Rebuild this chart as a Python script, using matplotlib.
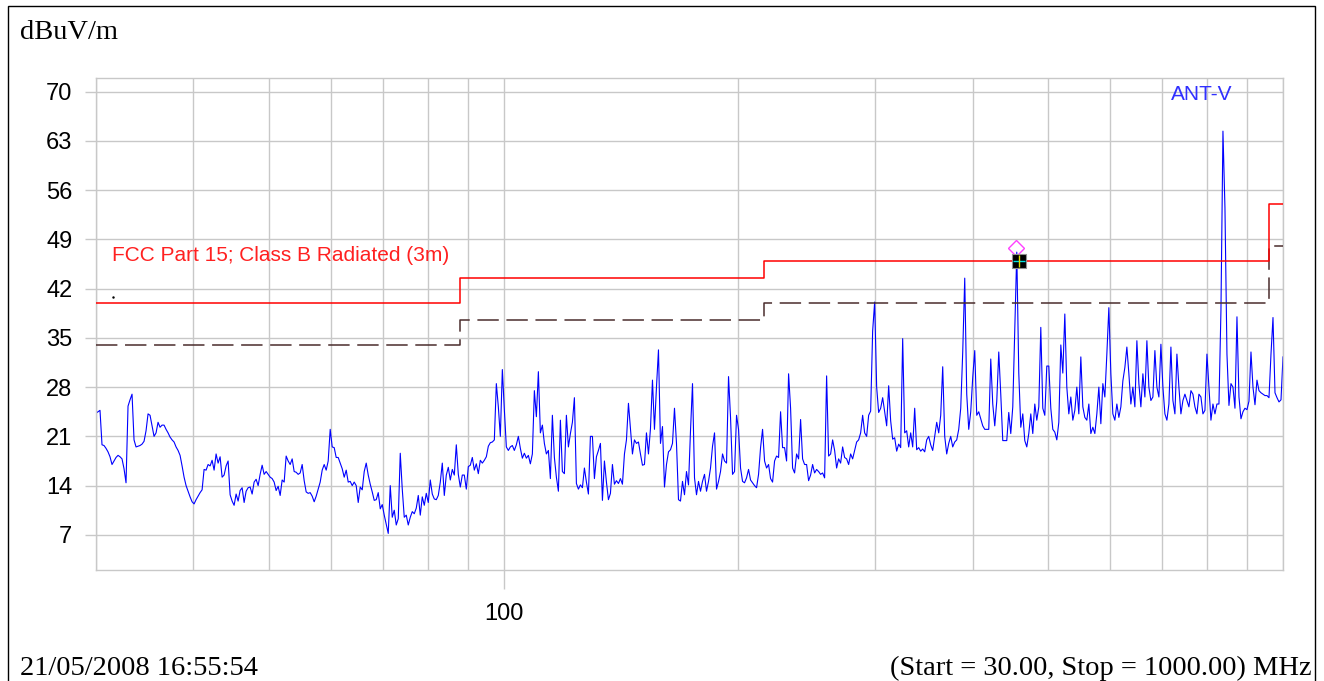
import numpy as np
import matplotlib
matplotlib.use("Agg")
import matplotlib.pyplot as plt
from matplotlib.patches import Rectangle

plt.rcParams['font.family'] = ['Liberation Sans', 'DejaVu Sans']

# sweep settings shown on the plot
start_mhz = 30.0
stop_mhz = 1000.0

level = [
    24.3, 24.5, 24.7, 19.8, 19.7, 19.3, 18.8, 18.1, 17.0, 17.5,
    18.0, 18.3, 18.1, 17.8, 16.4, 14.4, 25.3, 26.2, 27.0, 20.5,
    19.5, 19.6, 19.7, 19.9, 20.3, 21.8, 24.2, 24.0, 22.5, 21.0,
    21.5, 23.0, 22.3, 22.6, 22.6, 22.0, 21.5, 20.9, 20.5, 20.2,
    19.5, 19.0, 18.3, 16.8, 15.2, 14.0, 13.2, 12.4, 11.7, 11.4,
    12.0, 12.5, 13.0, 13.4, 16.3, 16.2, 17.0, 16.8, 17.6, 16.2,
    18.5, 17.2, 18.1, 15.2, 15.5, 16.8, 17.5, 12.7, 11.8, 11.2,
    12.8, 11.8, 13.3, 13.7, 11.6, 13.2, 13.7, 13.8, 12.8, 14.5,
    14.9, 14.0, 15.6, 16.9, 15.6, 16.0, 15.6, 15.2, 15.0, 14.5,
    13.3, 13.9, 12.6, 14.8, 14.5, 18.2, 17.5, 17.0, 17.8, 16.0,
    15.9, 15.6, 15.8, 17.0, 14.7, 13.1, 12.9, 13.0, 12.5, 11.7,
    12.5, 13.5, 14.5, 16.2, 17.0, 16.2, 17.5, 22.0, 19.5, 19.4,
    18.0, 18.0, 17.2, 16.4, 15.2, 16.2, 14.5, 14.6, 14.0, 14.5,
    14.0, 11.6, 13.8, 13.4, 16.0, 17.2, 15.5, 14.2, 13.1, 11.9,
    12.0, 13.0, 10.7, 11.3, 9.8, 8.5, 7.2, 14.0, 9.5, 10.5,
    8.4, 9.3, 18.6, 13.5, 9.5, 9.8, 8.4, 9.5, 10.3, 10.0,
    10.8, 12.6, 9.8, 12.4, 11.2, 12.9, 11.6, 14.8, 12.8, 12.1,
    12.0, 12.6, 14.5, 17.2, 12.6, 15.5, 16.6, 14.8, 16.3, 15.5,
    19.8, 15.6, 13.8, 15.5, 15.5, 13.5, 16.7, 16.9, 18.0, 16.2,
    17.1, 15.7, 17.6, 17.2, 17.6, 18.1, 19.6, 20.1, 20.2, 20.5,
    28.5, 25.2, 21.0, 30.5, 24.8, 19.5, 19.0, 19.5, 19.7, 19.0,
    19.8, 21.0, 19.3, 17.9, 18.6, 17.9, 18.3, 17.1, 18.5, 27.5,
    23.8, 30.2, 21.5, 22.6, 20.0, 18.5, 19.0, 15.0, 24.0, 18.0,
    15.2, 13.2, 23.3, 16.0, 15.7, 24.0, 19.5, 21.4, 23.0, 26.5,
    14.3, 13.5, 14.1, 13.7, 16.5, 14.5, 12.8, 21.0, 21.0, 15.0,
    18.1, 19.0, 20.0, 11.9, 17.5, 14.5, 12.0, 12.9, 17.0, 14.2,
    14.7, 14.3, 15.0, 14.2, 18.5, 20.5, 25.7, 22.0, 18.5, 20.5,
    20.0, 20.2, 18.5, 16.9, 17.0, 21.5, 18.5, 22.1, 29.0, 22.0,
    28.0, 33.3, 20.0, 22.4, 13.8, 17.0, 18.8, 19.1, 20.0, 25.0,
    20.0, 12.0, 11.8, 14.6, 12.7, 16.0, 14.1, 21.8, 28.5, 15.1,
    12.7, 14.6, 13.2, 14.6, 15.6, 13.2, 14.6, 16.5, 19.6, 21.5,
    13.5, 14.6, 16.0, 18.5, 17.5, 17.2, 29.5, 23.7, 15.6, 16.0,
    24.0, 22.0, 16.5, 14.6, 14.4, 15.1, 16.3, 14.8, 14.4, 14.0,
    13.7, 15.6, 19.4, 22.0, 17.5, 16.5, 17.0, 15.0, 14.5, 17.5,
    18.2, 18.0, 24.5, 19.4, 19.4, 17.5, 29.9, 25.0, 16.5, 15.8,
    18.5, 17.8, 23.4, 17.8, 17.0, 17.0, 14.7, 15.5, 17.0, 15.8,
    16.3, 16.0, 15.6, 15.8, 15.1, 29.6, 18.2, 18.5, 20.5, 19.0,
    16.5, 17.8, 17.2, 19.5, 18.0, 17.8, 17.0, 18.5, 17.8, 19.0,
    20.2, 20.5, 21.5, 24.0, 21.5, 21.0, 24.0, 24.6, 36.0, 40.1,
    28.0, 24.4, 25.0, 26.5, 24.5, 22.5, 28.2, 23.2, 20.6, 20.8,
    18.9, 19.9, 19.4, 34.9, 21.5, 21.8, 19.5, 21.5, 19.5, 25.0,
    19.1, 19.4, 18.9, 19.2, 18.8, 20.5, 21.0, 19.8, 19.0, 21.0,
    23.0, 21.5, 24.0, 30.9, 21.0, 18.5, 20.0, 21.0, 19.5, 20.2,
    20.5, 22.0, 25.0, 33.0, 43.5, 27.0, 22.0, 24.5, 29.4, 33.2,
    24.0, 24.5, 23.5, 22.5, 22.0, 22.0, 22.0, 32.0, 25.6, 22.5,
    26.0, 33.0, 27.0, 20.4, 20.4, 20.4, 24.4, 21.4, 25.2, 36.0,
    47.2, 30.0, 22.3, 24.2, 20.4, 19.5, 21.4, 24.2, 21.4, 25.6,
    23.3, 25.2, 36.5, 25.0, 24.0, 31.0, 31.0, 25.0, 22.0, 21.6,
    20.5, 23.0, 34.0, 30.0, 38.4, 28.0, 24.2, 26.6, 23.3, 24.7,
    28.0, 24.2, 32.3, 25.2, 23.7, 23.3, 25.6, 21.4, 22.3, 21.4,
    24.2, 28.0, 22.8, 28.5, 26.6, 32.7, 39.3, 29.9, 24.2, 23.3,
    25.6, 23.7, 25.2, 28.9, 30.8, 33.7, 29.9, 25.6, 28.0, 25.2,
    34.6, 28.5, 25.2, 29.9, 26.6, 34.6, 28.0, 26.1, 26.6, 33.2,
    28.0, 26.6, 34.1, 28.0, 24.2, 23.3, 25.6, 33.7, 26.1, 24.2,
    32.7, 28.0, 24.2, 26.1, 27.0, 26.1, 25.2, 27.5, 27.0, 25.2,
    24.2, 27.0, 26.6, 24.2, 24.7, 32.7, 28.0, 23.3, 25.6, 24.2,
    25.6, 25.6, 38.9, 64.4, 53.5, 32.7, 25.4, 28.5, 28.0, 25.0,
    38.0, 26.6, 23.5, 24.5, 25.0, 24.8, 26.0, 33.0, 28.0, 25.5,
    29.0, 27.5, 27.2, 27.0, 26.8, 26.8, 26.5, 32.7, 37.9, 27.2,
    26.5, 25.9, 26.2, 32.3,
]

# FCC Part 15 class B radiated (3 m) limit and the 6 dB margin line
limit_freq = [30, 88, 216, 960, 1000]
limit_level = [40, 43.5, 46, 54, 54]
margin_level = [34, 37.5, 40, 48, 48]

# marker on the highest point against the limit
peak_freq = 455.0
peak_level = 47.8
mark_freq = 458.0
mark_level = 46.0

grid_freq = [30, 40, 50, 60, 70, 80, 90, 200, 300, 400, 500, 600, 700, 800, 900, 1000]
ytick_vals = [7, 14, 21, 28, 35, 42, 49, 56, 63, 70]

freq = np.geomspace(start_mhz, stop_mhz, len(level))

W, H = 1324, 681
fig = plt.figure(figsize=(W / 100, H / 100), dpi=100)
ax = fig.add_axes([96 / W, 1 - 570 / H, 1187 / W, 492.3 / H])

gc = '#c8c8c8'
ax.set_xscale('log')
ax.set_xlim(start_mhz, stop_mhz)
ax.set_ylim(2, 72)
ax.set_yticks(ytick_vals)
ax.set_xticks([100])
ax.set_xticklabels(['100'])
ax.set_xticks(grid_freq, minor=True)
ax.xaxis.set_minor_formatter(plt.NullFormatter())
ax.grid(which='both', axis='x', color=gc, lw=1.0)
ax.grid(which='major', axis='y', color=gc, lw=1.0)
ax.set_axisbelow(True)
ax.tick_params(axis='x', which='major', length=14, width=1.0, color=gc, pad=10, labelsize=17)
ax.tick_params(axis='x', which='minor', length=0)
ax.tick_params(axis='y', length=8, width=1.0, color=gc, pad=9, labelsize=17)
for s in ax.spines.values():
    s.set_color(gc)
    s.set_linewidth(1.0)

ax.plot(freq, level, color='#0000ff', lw=0.8, zorder=2)
ax.step(limit_freq, margin_level, where='post', color='#4a2c2c', lw=1.1,
        dashes=(14, 5), zorder=3)
ax.step(limit_freq, limit_level, where='post', color='#ff0000', lw=1.1, zorder=4)

ax.plot([31.5], [40.8], 'k.', ms=1.5, zorder=5)
ax.plot([peak_freq], [peak_level], marker='D', ms=8, mfc='none', mec='#ff40ff',
        mew=1.0, zorder=6)
ax.plot([mark_freq], [mark_level], marker='s', ms=9.5, color='black', mec='#909090',
        mew=0.8, zorder=6)
ax.plot([mark_freq], [mark_level], marker='_', ms=9, color='#00e0e0', mew=1.0, zorder=7)
ax.plot([mark_freq], [mark_level], marker='|', ms=9, color='#e0e000', mew=1.0, zorder=7)

ax.text(0.0132, 0.638, 'FCC Part 15; Class B Radiated (3m)', transform=ax.transAxes,
        color='#ff2020', fontsize=15, va='center', ha='left')
ax.text(0.906, 0.965, 'ANT-V', transform=ax.transAxes, color='#3030ff',
        fontsize=15, va='center', ha='left')

serif = ['Liberation Serif', 'DejaVu Serif']
fig.text(20 / W, 1 - 39 / H, 'dBuV/m', family=serif, fontsize=20.5, va='baseline')
fig.text(20 / W, 1 - 675 / H, '21/05/2008 16:55:54', family=serif, fontsize=20.5,
         va='baseline')
fig.text(1312 / W, 1 - 675 / H, '(Start = 30.00, Stop = 1000.00) MHz', family=serif,
         fontsize=20.5, va='baseline', ha='right')

fig.patches.append(Rectangle((8 / W, -0.05), 1307 / W, 1.05 - 6 / H, transform=fig.transFigure,
                             fill=False, edgecolor='black', lw=1.0))

fig.savefig('out.png', dpi=100)
